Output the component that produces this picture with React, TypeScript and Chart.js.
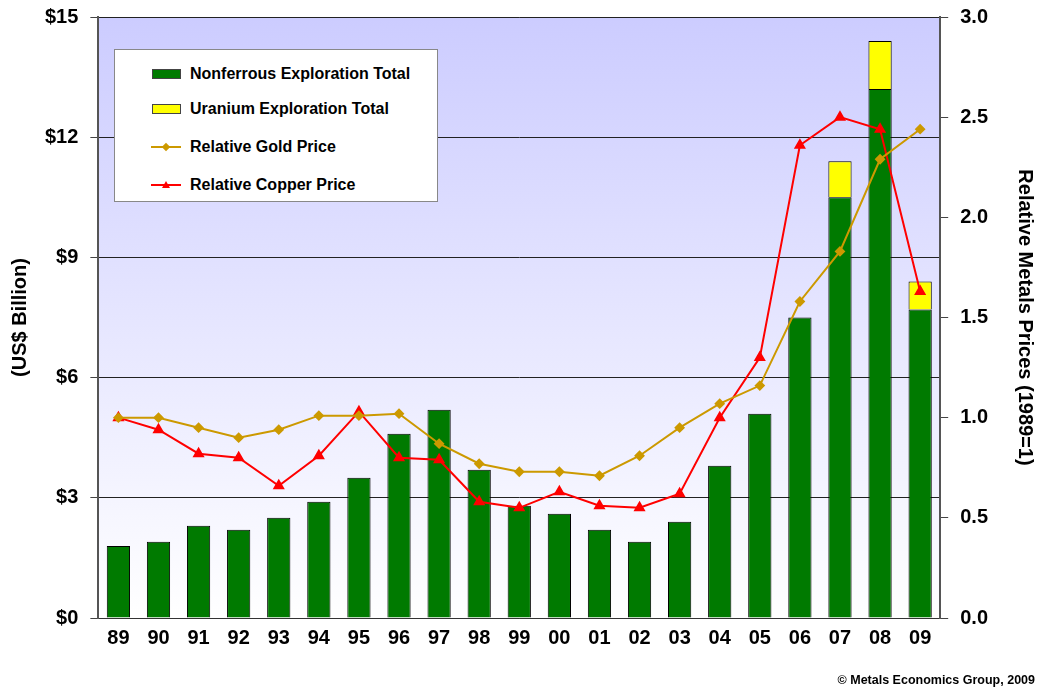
import React, { useEffect, useRef } from "react";
import { Chart, registerables } from "chart.js";

Chart.register(...registerables);

const years = ["89","90","91","92","93","94","95","96","97","98","99","00","01","02","03","04","05","06","07","08","09"];
const nonferrous = [1.8,1.9,2.3,2.2,2.5,2.9,3.5,4.6,5.2,3.7,2.8,2.6,2.2,1.9,2.4,3.8,5.1,7.5,10.5,13.2,7.7];
const uranium = [null,null,null,null,null,null,null,null,null,null,null,null,null,null,null,null,null,null,0.9,1.2,0.7];
const goldPrice = [1.0,1.0,0.95,0.9,0.94,1.01,1.01,1.02,0.87,0.77,0.73,0.73,0.71,0.81,0.95,1.07,1.16,1.58,1.83,2.29,2.44];
const copperPrice = [1.0,0.94,0.82,0.8,0.66,0.81,1.03,0.8,0.79,0.58,0.55,0.63,0.56,0.55,0.62,1.0,1.3,2.36,2.5,2.44,1.63];
const leftTicks = ["$0","$3","$6","$9","$12","$15"];

const FONT = "'Liberation Sans Narrow', 'Arial Narrow', 'Liberation Sans', Arial, sans-serif";

const bgPlugin = {
  id: "bgPlugin",
  beforeDraw(chart: any) {
    const { ctx, chartArea } = chart;
    if (!chartArea) return;
    const g = ctx.createLinearGradient(0, chartArea.top, 0, chartArea.bottom);
    g.addColorStop(0, "#ccccff");
    g.addColorStop(1, "#ffffff");
    ctx.save();
    ctx.fillStyle = g;
    ctx.fillRect(chartArea.left, chartArea.top, chartArea.right - chartArea.left, chartArea.bottom - chartArea.top);
    ctx.strokeStyle = "#888888";
    ctx.lineWidth = 1;
    ctx.beginPath();
    ctx.moveTo(chartArea.left, chartArea.top + 0.5);
    ctx.lineTo(chartArea.right, chartArea.top + 0.5);
    ctx.stroke();
    ctx.restore();
  },
};

export default function App() {
  const ref = useRef<HTMLCanvasElement | null>(null);
  useEffect(() => {
    document.body.style.margin = "0";
    if (!ref.current) return;
    const chart = new Chart(ref.current, {
      type: "bar",
      data: {
        labels: years,
        datasets: [
          {
            type: "line",
            label: "Relative Gold Price",
            data: goldPrice,
            yAxisID: "y1",
            borderColor: "#cc9900",
            backgroundColor: "#cc9900",
            borderWidth: 2,
            pointStyle: "rectRot",
            pointRadius: 4,
            order: 0,
          } as any,
          {
            type: "line",
            label: "Relative Copper Price",
            data: copperPrice,
            yAxisID: "y1",
            borderColor: "#ff0000",
            backgroundColor: "#ff0000",
            borderWidth: 2,
            pointStyle: "triangle",
            pointRadius: 5,
            order: 0,
          } as any,
          {
            label: "Nonferrous Exploration Total",
            data: nonferrous,
            backgroundColor: "#007a00",
            borderColor: "#000000",
            borderWidth: 1,
            barPercentage: 0.58,
            categoryPercentage: 1,
            order: 1,
            yAxisID: "y",
          },
          {
            label: "Uranium Exploration Total",
            data: uranium,
            backgroundColor: "#ffff00",
            borderColor: "#000000",
            borderWidth: 1,
            barPercentage: 0.58,
            categoryPercentage: 1,
            order: 1,
            yAxisID: "y",
          },
        ],
      },
      options: {
        animation: false,
        responsive: false,
        layout: { padding: { top: 0, bottom: 33, left: 5, right: 0 } },
        plugins: { legend: { display: false }, tooltip: { enabled: false } },
        scales: {
          x: {
            stacked: true,
            grid: { display: false, drawTicks: false },
            border: { color: "#333333", width: 1 },
            ticks: { color: "#000", font: { family: FONT, size: 20, weight: "bold" }, padding: 8 },
          },
          y: {
            stacked: true,
            position: "left",
            min: 0,
            max: 15,
            ticks: {
              stepSize: 3,
              color: "#000",
              padding: 12,
              font: { family: FONT, size: 20, weight: "bold" },
              callback: (v: any) => leftTicks[Math.round(Number(v) / 3)],
            },
            grid: { color: "#222222", tickColor: "#444444", tickLength: 8, lineWidth: 1 },
            border: { color: "#555555", width: 2 },
            title: {
              display: true,
              text: "(US$ Billion)",
              color: "#000",
              font: { family: FONT, size: 20, weight: "bold" },
              padding: { top: 3, bottom: 1 },
            },
          },
          y1: {
            position: "right",
            min: 0,
            max: 3,
            ticks: {
              stepSize: 0.5,
              color: "#000",
              padding: 12,
              font: { family: FONT, size: 20, weight: "bold" },
              callback: (v: any) => Number(v).toFixed(1),
            },
            grid: { drawOnChartArea: false, tickColor: "#444444", tickLength: 8 },
            border: { color: "#555555", width: 2 },
            title: {
              display: true,
              text: "Relative Metals Prices (1989=1)",
              color: "#000",
              font: { family: FONT, size: 20, weight: "bold" },
              padding: { top: 5, bottom: 13 },
            },
          },
        },
      },
      plugins: [bgPlugin],
    });
    return () => chart.destroy();
  }, []);

  const legendItem = (swatch: React.ReactNode, text: string, top: number) => (
    <div style={{ position: "absolute", left: 0, top, display: "flex", alignItems: "center", height: 20 }}>
      <div style={{ width: 30, marginLeft: 36, display: "flex", alignItems: "center", justifyContent: "center" }}>{swatch}</div>
      <span style={{ marginLeft: 9, fontFamily: FONT, fontWeight: "bold", fontSize: 16, color: "#000", whiteSpace: "nowrap" }}>{text}</span>
    </div>
  );

  return (
    <div style={{ position: "relative", width: 1042, height: 691, background: "#fff", overflow: "hidden" }}>
      <canvas ref={ref} width={1042} height={698} style={{ position: "absolute", left: 0, top: -7 }} />
      <div
        style={{
          position: "absolute",
          left: 114,
          top: 49,
          width: 324,
          height: 153,
          background: "#fff",
          border: "1px solid #888",
          boxSizing: "border-box",
        }}
      >
        {legendItem(<div style={{ width: 29, height: 10, background: "#007a00", border: "1px solid #444", boxSizing: "border-box" }} />, "Nonferrous Exploration Total", 14)}
        {legendItem(<div style={{ width: 29, height: 10, background: "#ffff00", border: "1px solid #444", boxSizing: "border-box" }} />, "Uranium Exploration Total", 49)}
        {legendItem(
          <div style={{ position: "relative", width: 30, height: 10 }}>
            <div style={{ position: "absolute", left: 0, top: 4, width: 30, height: 2, background: "#cc9900" }} />
            <div style={{ position: "absolute", left: 12, top: 2, width: 6, height: 6, background: "#cc9900", transform: "rotate(45deg)" }} />
          </div>,
          "Relative Gold Price",
          87
        )}
        {legendItem(
          <div style={{ position: "relative", width: 30, height: 10 }}>
            <div style={{ position: "absolute", left: 0, top: 4, width: 30, height: 2, background: "#ff0000" }} />
            <div style={{ position: "absolute", left: 11, top: 1, width: 0, height: 0, borderLeft: "4px solid transparent", borderRight: "4px solid transparent", borderBottom: "7px solid #ff0000" }} />
          </div>,
          "Relative Copper Price",
          125
        )}
      </div>
      <div
        style={{
          position: "absolute",
          right: 7,
          top: 673,
          fontFamily: FONT,
          fontWeight: "bold",
          fontSize: 12.5,
          color: "#000",
          whiteSpace: "nowrap",
        }}
      >
        © Metals Economics Group, 2009
      </div>
    </div>
  );
}
